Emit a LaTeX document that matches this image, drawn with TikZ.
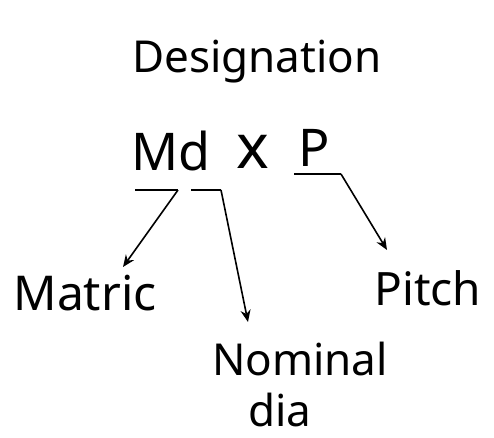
\documentclass[tikz,border=0pt]{standalone}
\usepackage{fontspec}
\setmainfont{Noto Sans}
\usetikzlibrary{arrows.meta}
\begin{document}
\begin{tikzpicture}[x=1pt,y=-1pt,
  lbl/.style={inner sep=0pt,anchor=base,font=\fontsize{46}{54}\selectfont},
  big/.style={inner sep=0pt,anchor=base,font=\fontsize{52}{60}\selectfont},
  conn/.style={line width=1.6pt,-{Stealth[length=12pt,width=10pt]}},
  bar/.style={line width=1.6pt}]
\useasboundingbox (0,0) rectangle (494,437);
\node[lbl,font=\fontsize{44}{52}\selectfont] (title) at (257,72) {Designation};
\node[big] (md) at (171,170) {Md};
\node[lbl,font=\fontsize{62}{70}\selectfont] (times) at (253,168) {x};
\node[big] (p) at (314,166) {P};
\node[lbl,font=\fontsize{48}{56}\selectfont] (matric) at (85,310) {Matric};
\node[lbl] (pitch) at (428,305) {Pitch};
\node[lbl,font=\fontsize{44}{52}\selectfont] (nominal) at (300,375) {Nominal};
\node[lbl,font=\fontsize{44}{52}\selectfont] (dia) at (280,426) {dia};
\coordinate (a1) at (135,190);
\coordinate (a2) at (178,190);
\coordinate (b1) at (191,190);
\coordinate (b2) at (221,190);
\coordinate (c1) at (294,174);
\coordinate (c2) at (341,174);
\coordinate (ta) at (123,267);
\coordinate (tb) at (248,322);
\coordinate (tc) at (387,250);
\draw[bar] (a1) -- (a2);
\draw[conn] (a2) -- (ta);
\draw[bar] (b1) -- (b2);
\draw[conn] (b2) -- (tb);
\draw[bar] (c1) -- (c2);
\draw[conn] (c2) -- (tc);
\end{tikzpicture}
\end{document}
